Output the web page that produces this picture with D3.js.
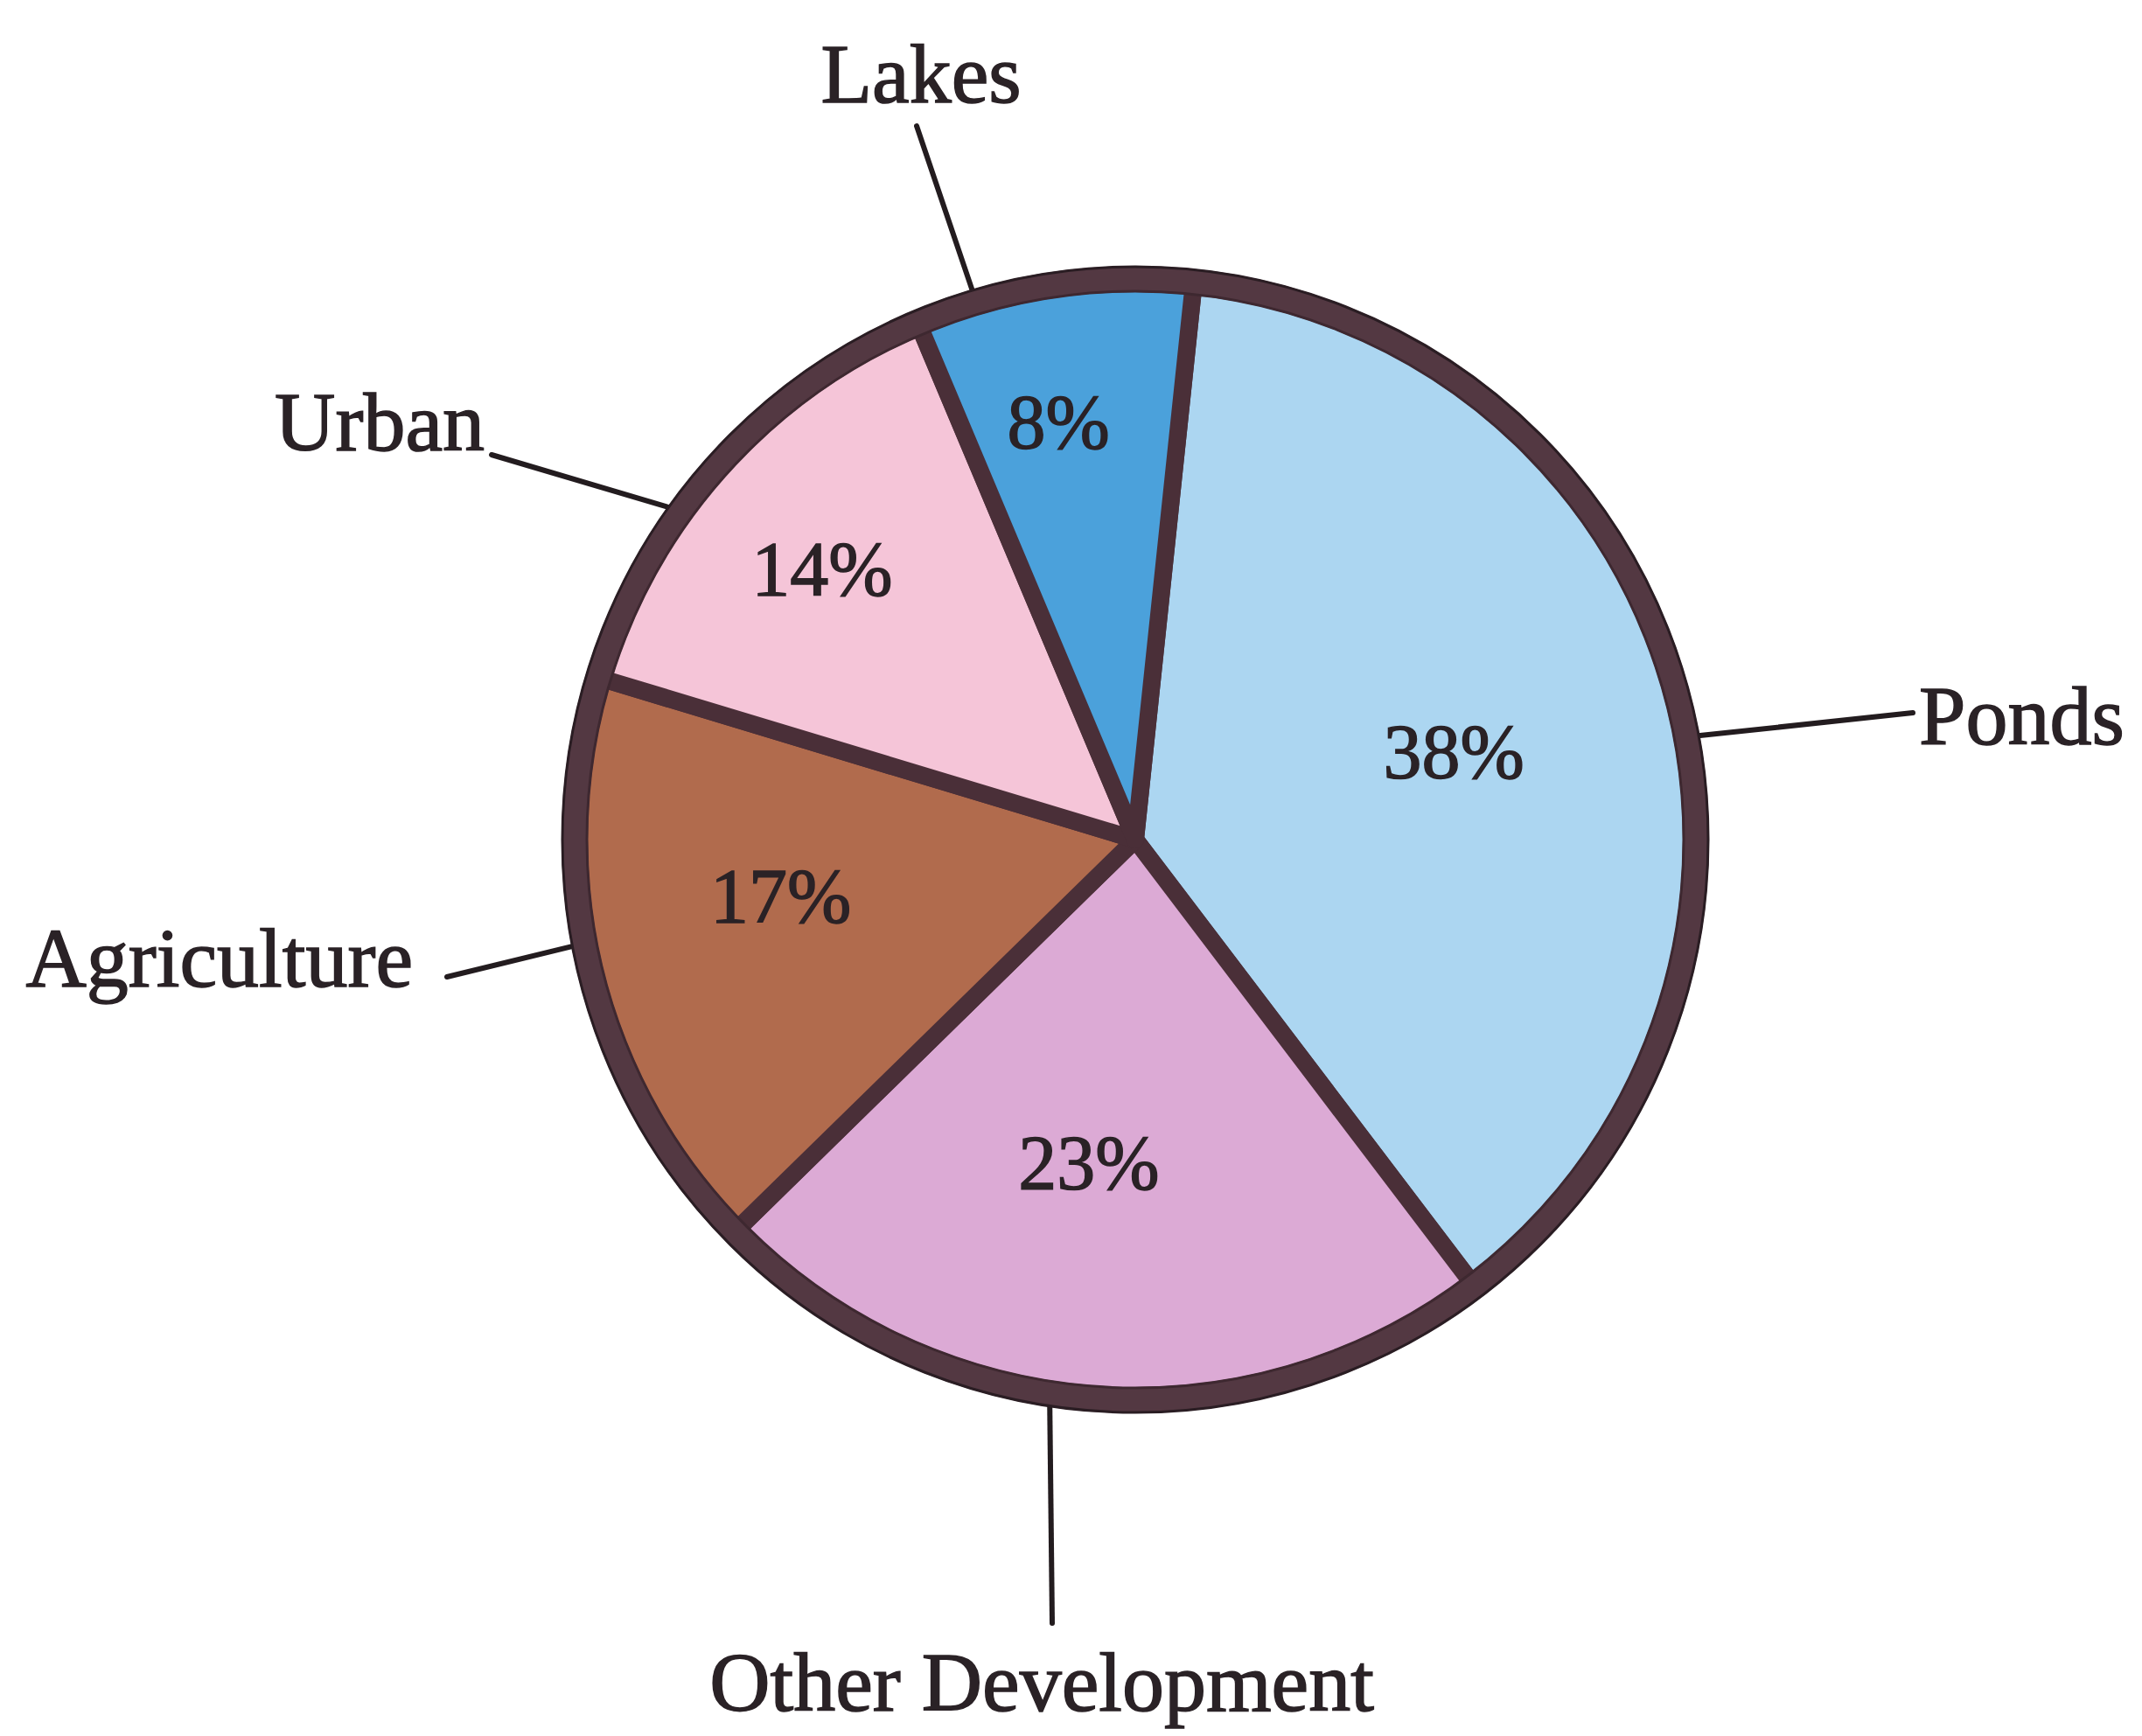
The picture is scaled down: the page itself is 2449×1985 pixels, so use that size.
<!DOCTYPE html>
<html>
<head>
<meta charset="utf-8">
<script src="https://cdn.jsdelivr.net/npm/d3@7"></script>
<style>
  html, body { margin: 0; padding: 0; background: #ffffff; }
  svg { display: block; }
</style>
</head>
<body>
<svg id="chart" width="2449" height="1985"></svg>
<script>
// ---- data ----
const categories = ["Ponds", "Other Development", "Agriculture", "Urban", "Lakes"];
const values = [38, 23, 17, 14, 8];
const valueLabels = ["38%", "23%", "17%", "14%", "8%"];
const colors = ["#acd6f1", "#dcaad5", "#b16b4d", "#f5c5d8", "#4ba1db"];

// ---- layout (not data) ----
const W = 2449, H = 1985;
const cx = 1298, cy = 960, R = 641;
const startOffset = 6 * Math.PI / 180;
const pctRadius = [0.59, 0.58, 0.64, 0.74, 0.76];
const pctNudgeDeg = [0, 4, 5, -1, -2];
// leader start angle on the rim (degrees clockwise from top), text point and leader end (offsets from centre)
const labelLayout = [
  { rimDeg: 79.5,  tx: 896,  ty: -109, anchor: "start",  lx: 889,  ly: -145 },  // Ponds
  { rimDeg: 188.7, tx: -107, ty: 996,  anchor: "middle", lx: -95,  ly: 896 },   // Other Development
  { rimDeg: 259.3, tx: -826, ty: 168,  anchor: "end",    lx: -787, ly: 157 },   // Agriculture
  { rimDeg: 305.7, tx: -744, ty: -445, anchor: "end",    lx: -736, ly: -440 },  // Urban
  { rimDeg: 343.5, tx: -245, ty: -843, anchor: "middle", lx: -250, ly: -816 }   // Lakes
];
const sepInk = "#4a2f38";
const ringInk = "#533842";
const textInk = "#2a2226";
const fontFam = "'Liberation Serif', 'DejaVu Serif', serif";

const svg = d3.select("#chart");
svg.append("rect").attr("width", W).attr("height", H).attr("fill", "#ffffff");
const g = svg.append("g").attr("transform", `translate(${cx},${cy})`);

const pie = d3.pie().sort(null).value(d => d)
  .startAngle(startOffset).endAngle(startOffset + 2 * Math.PI);
const arcs = pie(values);
const arc = d3.arc().innerRadius(0).outerRadius(R);

// leader lines (drawn first, under the ring)
labelLayout.forEach(L => {
  const a = L.rimDeg * Math.PI / 180;
  g.append("line")
    .attr("x1", Math.sin(a) * (R + 6)).attr("y1", -Math.cos(a) * (R + 6))
    .attr("x2", L.lx).attr("y2", L.ly)
    .attr("stroke", "#231c1f").attr("stroke-width", 6)
    .attr("stroke-linecap", "round");
});

// slices
g.selectAll("path.slice").data(arcs).join("path")
  .attr("class", "slice")
  .attr("d", arc)
  .attr("fill", (d, i) => colors[i])
  .attr("stroke", sepInk)
  .attr("stroke-width", 20)
  .attr("stroke-linejoin", "round");

// outer ring
g.append("circle").attr("r", R).attr("fill", "none")
  .attr("stroke", ringInk).attr("stroke-width", 30);
g.append("circle").attr("r", R + 14).attr("fill", "none")
  .attr("stroke", "#2a1d23").attr("stroke-width", 3);
g.append("circle").attr("r", R - 14).attr("fill", "none")
  .attr("stroke", "#3e2830").attr("stroke-width", 3);

// percentage labels
arcs.forEach((a, i) => {
  const mid = (a.startAngle + a.endAngle) / 2 + pctNudgeDeg[i] * Math.PI / 180;
  const r = R * pctRadius[i];
  g.append("text")
    .attr("x", Math.sin(mid) * r)
    .attr("y", -Math.cos(mid) * r)
    .attr("dy", "0.35em")
    .attr("text-anchor", "middle")
    .attr("font-family", fontFam)
    .attr("font-size", 88)
    .attr("fill", textInk)
    .attr("stroke", textInk).attr("stroke-width", 1.5)
    .text(valueLabels[i]);
});

// category labels
categories.forEach((c, i) => {
  const L = labelLayout[i];
  g.append("text")
    .attr("x", L.tx).attr("y", L.ty)
    .attr("text-anchor", L.anchor)
    .attr("font-family", fontFam)
    .attr("font-size", 96)
    .attr("fill", textInk)
    .attr("stroke", textInk).attr("stroke-width", 1.5)
    .text(c);
});
</script>
</body>
</html>
